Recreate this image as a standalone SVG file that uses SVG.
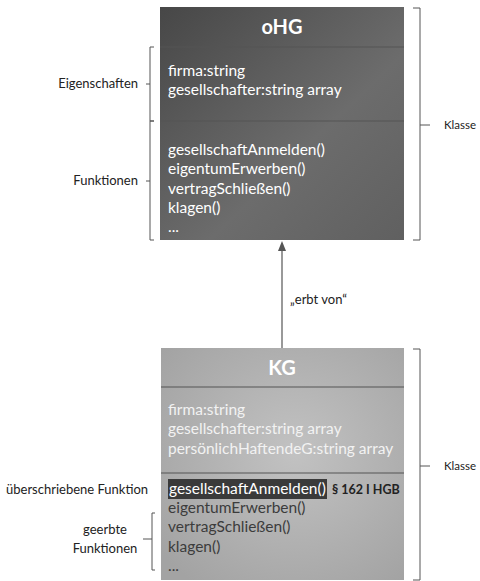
<svg xmlns="http://www.w3.org/2000/svg" width="480" height="581" viewBox="0 0 480 581">
<defs>
<linearGradient id="gDark" x1="0" y1="0" x2="1" y2="1">
<stop offset="0" stop-color="#474747"/>
<stop offset="0.6" stop-color="#6c6c6c"/>
<stop offset="1" stop-color="#606060"/>
</linearGradient>
<radialGradient id="gLight" cx="0.55" cy="0.45" r="0.7">
<stop offset="0" stop-color="#c2c2c2"/>
<stop offset="1" stop-color="#a3a3a3"/>
</radialGradient>
<marker id="arr" markerWidth="10" markerHeight="10" refX="5" refY="5" orient="auto" markerUnits="userSpaceOnUse">
<path d="M0,1 L10,5 L0,9 z" fill="#555"/>
</marker>
</defs>
<style>
text{font-family:"Lato","Liberation Sans",sans-serif;}
.lbl{font-size:13px;fill:#222;}
.kl{font-size:11.5px;fill:#222;}
.t{font-size:15.5px;}
.w{fill:#fff;}
.lw{fill:#f2f2f2;}
.dk{fill:#3c3c3c;}
.h{font-size:20px;font-weight:bold;fill:#fff;text-anchor:middle;}
.br{fill:none;stroke:#555;stroke-width:1;}
.div{stroke:#555;stroke-width:1.2;}
</style>

<g id="connectors">
<line x1="282" y1="348" x2="282" y2="246" stroke="#555" stroke-width="1.2" marker-end="url(#arr)"/>
<text x="290" y="304" class="lbl">„erbt von“</text>
</g>

<g id="oHG">
<rect x="160" y="7" width="244" height="233" fill="url(#gDark)"/>
<line x1="160" y1="47" x2="404" y2="47" class="div"/>
<line x1="160" y1="121" x2="404" y2="121" class="div"/>
<text x="282" y="34" class="h">oHG</text>
<text x="168" y="76" class="t w">firma:string</text>
<text x="168" y="95" class="t w">gesellschafter:string array</text>
<text x="168" y="155" class="t w">gesellschaftAnmelden()</text>
<text x="168" y="174" class="t w">eigentumErwerben()</text>
<text x="168" y="194" class="t w">vertragSchließen()</text>
<text x="168" y="213" class="t w">klagen()</text>
<text x="168" y="232" class="t w">...</text>
</g>

<g id="oHG-annotations">
<path d="M154,47 H150 V121 H154" class="br"/>
<line x1="146" y1="84" x2="150" y2="84" class="br"/>
<path d="M154,121 H150 V240 H154" class="br"/>
<line x1="146" y1="181" x2="150" y2="181" class="br"/>
<text x="138" y="88" class="lbl" text-anchor="end">Eigenschaften</text>
<text x="138" y="185" class="lbl" text-anchor="end">Funktionen</text>
<path d="M413,8 H420 V240 H413" class="br"/>
<line x1="420" y1="125" x2="430" y2="125" class="br"/>
<text x="444" y="129" class="kl">Klasse</text>
</g>

<g id="KG">
<rect x="161" y="348" width="243" height="232" fill="url(#gLight)"/>
<line x1="161" y1="387" x2="404" y2="387" class="div"/>
<line x1="161" y1="473" x2="404" y2="473" class="div"/>
<text x="282" y="375" class="h">KG</text>
<text x="168" y="415" class="t lw">firma:string</text>
<text x="168" y="434" class="t lw">gesellschafter:string array</text>
<text x="168" y="454" class="t lw">persönlichHaftendeG:string array</text>
<rect x="168" y="479" width="159" height="20" fill="#3a3a3a"/>
<text x="169" y="494" class="t w">gesellschaftAnmelden()</text>
<text x="332" y="494" font-size="12.5" font-weight="bold" fill="#222">§ 162 I HGB</text>
<text x="168" y="513" class="t dk">eigentumErwerben()</text>
<text x="168" y="532" class="t dk">vertragSchließen()</text>
<text x="168" y="552" class="t dk">klagen()</text>
<text x="168" y="571" class="t dk">...</text>
</g>

<g id="KG-annotations">
<text x="6" y="494" class="lbl">überschriebene Funktion</text>
<path d="M155,513 H152 V570 H155" class="br"/>
<line x1="143" y1="539" x2="152" y2="539" class="br"/>
<text x="105" y="534" class="lbl" text-anchor="middle">geerbte</text>
<text x="105" y="553" class="lbl" text-anchor="middle">Funktionen</text>
<path d="M413,349 H420 V580 H413" class="br"/>
<line x1="420" y1="466" x2="430" y2="466" class="br"/>
<text x="444" y="470" class="kl">Klasse</text>
</g>
</svg>
